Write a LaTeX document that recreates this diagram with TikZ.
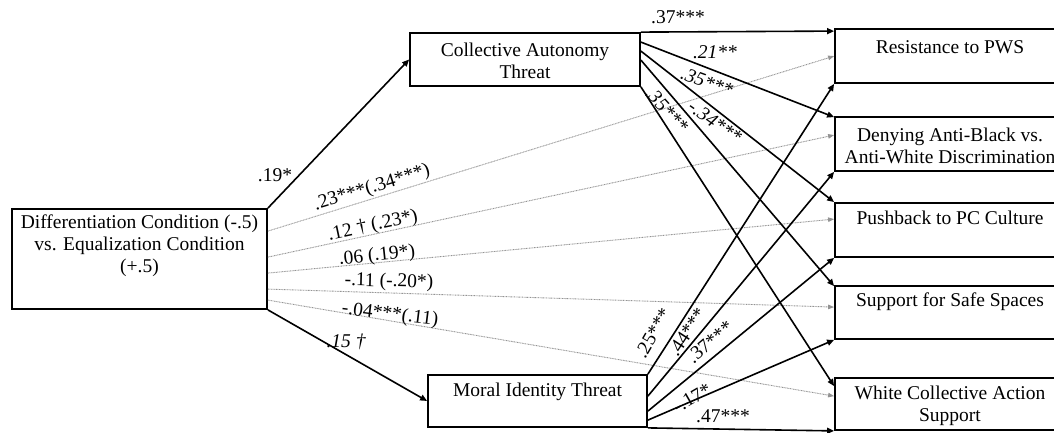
\documentclass[tikz,border=0pt]{standalone}
\usepackage{fontspec}
\setmainfont{Liberation Serif}
\usetikzlibrary{arrows.meta}

\begin{document}
\begin{tikzpicture}[x=1bp,y=-1bp,
  font=\fontsize{19.5bp}{22bp}\selectfont,
  box/.style={draw,line width=1.8bp,inner sep=0pt},
  boxtext/.style={align=center,inner sep=0pt},
  direct/.style={line width=1.6bp,-{Triangle[length=7bp,width=6bp]}},
  total/.style={draw=gray!85,line width=0.9bp,dash pattern=on 0.9bp off 0.7bp,-{Triangle[length=6bp,width=4.5bp]}},
  coef/.style={inner sep=0pt}
]
\useasboundingbox (0,0) rectangle (1054,433);

% ---- boxes (the outcome column runs off the right edge)
\begin{scope}
\clip (0,0) rectangle (1054,433);
\node[box,minimum width=255bp,minimum height=100bp] (cond) at (139.5,259) {};
\node[box,minimum width=230bp,minimum height=53bp] (cat) at (525,59.5) {};
\node[box,minimum width=219bp,minimum height=52bp] (mit) at (537.5,401) {};
\node[box,minimum width=230bp,minimum height=54bp] (r1) at (950,56) {};
\node[box,minimum width=230bp,minimum height=54bp] (r2) at (950,144) {};
\node[box,minimum width=230bp,minimum height=54bp] (r3) at (950,230) {};
\node[box,minimum width=230bp,minimum height=53bp] (r4) at (950,312.5) {};
\node[box,minimum width=230bp,minimum height=52bp] (r5) at (950,404) {};
\end{scope}

% ---- box texts
\node[boxtext] (tcond) at (139.5,246) {Differentiation Condition (-.5)\\vs. Equalization Condition\\(+.5)};
\node[boxtext] (tcat) at (525,61) {Collective Autonomy\\Threat};
\node[boxtext] (tmit) at (537.5,392) {Moral Identity Threat};
\node[boxtext] (tr1) at (950,47) {Resistance to PWS};
\node[boxtext] (tr2) at (950,146) {Denying Anti-Black vs.\\Anti-White Discrimination};
\node[boxtext] (tr3) at (950,218) {Pushback to PC Culture};
\node[boxtext] (tr4) at (950,302) {Support for Safe Spaces};
\node[boxtext] (tr5) at (950,406) {White Collective Action\\Support};

% ---- condition to mediators
\draw[direct] (cond.north east) -- (cat.west);
\draw[direct] (cond.south east) -- (mit.west);

% ---- condition to outcomes (total effects, dotted)
\draw[total] ([yshift=-23bp]cond.north east) -- ([yshift=-28bp]r1.north west);
\draw[total] ([yshift=-49bp]cond.north east) -- ([yshift=-19bp]r2.north west);
\draw[total] ([yshift=-65bp]cond.north east) -- ([yshift=-17bp]r3.north west);
\draw[total] ([yshift=-81bp]cond.north east) -- ([yshift=-22bp]r4.north west);
\draw[total] ([yshift=-92bp]cond.north east) -- ([yshift=-19bp]r5.north west);

% ---- collective autonomy threat to outcomes
\draw[direct] (cat.north east) -- ([yshift=-3bp]r1.north west);
\draw[direct] ([yshift=-10bp]cat.north east) -- ([yshift=-1bp]r2.north west);
\draw[direct] ([yshift=-19bp]cat.north east) -- (r3.north west);
\draw[direct] ([yshift=-28bp]cat.north east) -- ([yshift=-1bp]r4.north west);
\draw[direct] (cat.south east) -- ([yshift=-9bp]r5.north west);

% ---- moral identity threat to outcomes
\draw[direct] (mit.north east) -- (r1.south west);
\draw[direct] ([yshift=-22bp]mit.north east) -- (r2.south west);
\draw[direct] ([yshift=-37bp]mit.north east) -- (r3.south west);
\draw[direct] ([yshift=-46bp]mit.north east) -- (r4.south west);
\draw[direct] (mit.south east) -- (r5.south west);

% ---- coefficients
\node[coef] (c19) at (275,175) {.19*};
\node[coef] (c15) at (346,342) {\itshape .15 †};
\node[coef,rotate=17] (c23) at (372,188) {.23***(.34***)};
\node[coef,rotate=12] (c12) at (373,226) {.12 † (.23*)};
\node[coef,rotate=6] (c06) at (377,256) {.06 (.19*)};
\node[coef,rotate=-1.5] (c11) at (389,282) {-.11 (-.20*)};
\node[coef,rotate=-7] (c04) at (390,315) {-.04***(.11)};

\node[coef] (a37) at (678,17) {.37***};
\node[coef] (a21) at (715,52) {\itshape .21**};
\node[coef,rotate=-20] (a35) at (707,82) {\itshape .35***};
\node[coef,rotate=-35] (a34) at (715,122) {\itshape -.34***};
\node[coef,rotate=-48] (a35b) at (667,110) {\itshape .35***};

\node[coef,rotate=60] (m25) at (653,333) {.25***};
\node[coef,rotate=57] (m44) at (687,332) {.44***};
\node[coef,rotate=40] (m37) at (710,342) {.37***};
\node[coef,rotate=30] (m17) at (692,398) {-.17*};
\node[coef] (m47) at (723,416) {.47***};
\end{tikzpicture}
\end{document}
